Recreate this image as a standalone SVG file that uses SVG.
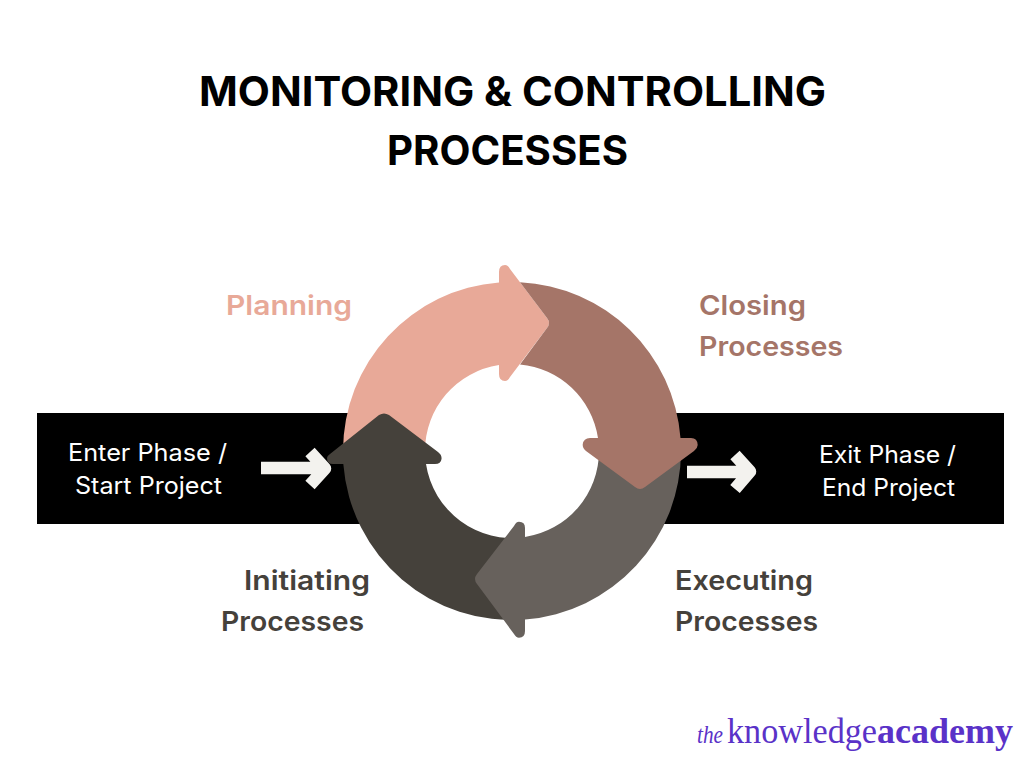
<svg xmlns="http://www.w3.org/2000/svg" width="1024" height="768" viewBox="0 0 1024 768">
<style>
text{font-family:"Inter","Noto Sans","Liberation Sans",sans-serif}
.title{font-size:41px;font-weight:700;fill:#000}
.band{font-size:24px;font-weight:400;fill:#fff}
.lab{font-size:27px;font-weight:600}
.logo{font-family:"Liberation Serif",serif;font-size:35px;fill:#5a32c8}
.the{font-size:26px}
.arr{fill:none;stroke:#f3f2ee;stroke-width:12.500;stroke-linejoin:round}
</style>
<rect width="1024" height="768" fill="#fff"/>
<g id="title">
<text class="title" x="199" y="106" textLength="627" lengthAdjust="spacingAndGlyphs">MONITORING &amp; CONTROLLING</text>
<text class="title" x="387" y="165" textLength="241" lengthAdjust="spacingAndGlyphs">PROCESSES</text>
</g>
<g id="band"><rect x="37" y="413" width="967" height="111" fill="#000"/><circle cx="512" cy="451" r="90" fill="#fff"/></g>
<g id="enter">
<text class="band" x="68" y="461" textLength="159" lengthAdjust="spacingAndGlyphs">Enter Phase /</text>
<text class="band" x="75" y="494" textLength="147" lengthAdjust="spacingAndGlyphs">Start Project</text>
</g>
<g id="exit">
<text class="band" x="819" y="463" textLength="137" lengthAdjust="spacingAndGlyphs">Exit Phase /</text>
<text class="band" x="822" y="496" textLength="133" lengthAdjust="spacingAndGlyphs">End Project</text>
</g>
<g id="connectors">
<path class="arr" d="M261 468H320M310 452L325 468.500L310 485" />
<path class="arr" d="M687 472H744M735 455L750 471.500L735 489" />
</g>
<g id="planning-arrow"><path fill="#e8a998" d="M343 451A169 169 0 0 1 499 282.500L499 272Q499 265 505 265Q508 265 510 269L547 318Q551 323 547 328L510 377Q508 381 505 381Q499 381 499 374L499 365A87 87 0 0 0 425 451Z"/></g>
<g id="initiating-arrow"><path fill="#45413b" d="M525 619.500A169 169 0 0 1 343.300 464L333 464Q327 464 327 458Q327 456 330 454L379 415Q384 412 389 415L438 452Q442 455 441.500 459Q441 464 435 464L426 464A87 87 0 0 0 525 537Z"/></g>
<g id="executing-arrow"><path fill="#67615c" d="M681 451A169 169 0 0 1 525 619.500L525 631Q525 637.700 519 637.700Q516 637.700 514 634L477 584Q473 579 477 574L514 526Q516 521.700 519 521.700Q525 521.700 525 528L525 537A87 87 0 0 0 599 451Z"/></g>
<g id="closing-arrow"><path fill="#a57568" d="M520 282.200A169 169 0 0 1 680.500 438L691 438Q697.500 438 697.700 445Q697.700 448 694 451L645 487Q640 491 635 487L586 451Q582.500 448 582.700 444.500Q583.500 438 590 438L598 438A87 87 0 0 0 520 364.400L547 328Q551 323 547 318Z"/></g>
<g id="label-planning"><text class="lab" x="226" y="315" fill="#e8a998" textLength="126" lengthAdjust="spacingAndGlyphs">Planning</text></g>
<g id="label-closing" fill="#a57568">
<text class="lab" x="699" y="315" textLength="107" lengthAdjust="spacingAndGlyphs">Closing</text>
<text class="lab" x="699" y="356" textLength="144" lengthAdjust="spacingAndGlyphs">Processes</text>
</g>
<g id="label-initiating" fill="#45413b">
<text class="lab" x="244" y="590" textLength="126" lengthAdjust="spacingAndGlyphs">Initiating</text>
<text class="lab" x="221" y="631" textLength="143" lengthAdjust="spacingAndGlyphs">Processes</text>
</g>
<g id="label-executing" fill="#45413b">
<text class="lab" x="675" y="590" textLength="138" lengthAdjust="spacingAndGlyphs">Executing</text>
<text class="lab" x="675" y="631" textLength="143" lengthAdjust="spacingAndGlyphs">Processes</text>
</g>
<g id="logo">
<text class="logo the" x="697" y="743" font-style="italic" textLength="26" lengthAdjust="spacingAndGlyphs">the</text>
<text class="logo" x="727" y="743" textLength="150" lengthAdjust="spacingAndGlyphs">knowledge</text>
<text class="logo" x="877" y="743" font-weight="700" textLength="136" lengthAdjust="spacingAndGlyphs">academy</text>
</g>
</svg>
